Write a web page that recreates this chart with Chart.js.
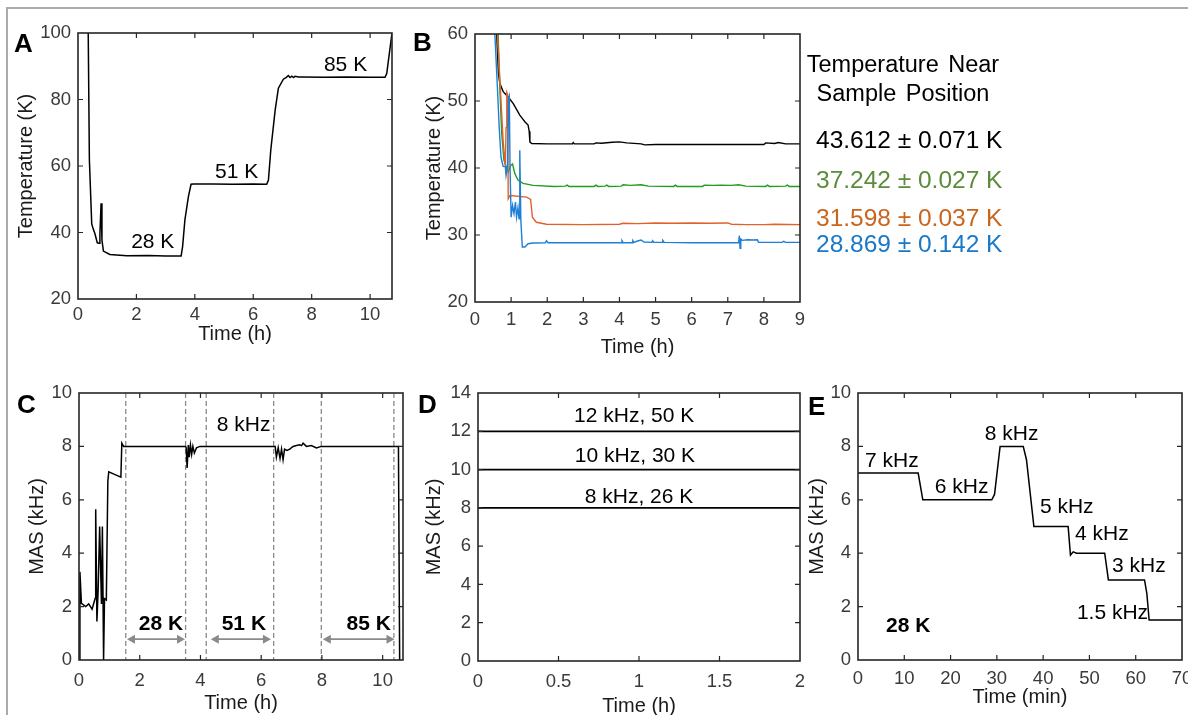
<!DOCTYPE html>
<html>
<head>
<meta charset="utf-8">
<script src="https://cdn.jsdelivr.net/npm/chart.js@4.4.1/dist/chart.umd.min.js"></script>
<style>
  html, body { margin: 0; padding: 0; background: #fff; }
  #fig { position: relative; width: 1188px; height: 715px; overflow: hidden; background: #fff;
         font-family: 'Liberation Sans', Arial, Helvetica, sans-serif; }
  #fig canvas { position: absolute; left: 0; top: 0; }
  .frame { position: absolute; left: 6px; top: 7px; right: -10px; bottom: -10px;
           border-top: 2px solid #ababab; border-left: 2px solid #ababab; }
  .lbl { position: absolute; white-space: nowrap; line-height: 1; color: #000; }
  .panel { font-weight: bold; font-size: 26px; }
  .hdr { font-size: 23.5px; width: 260px; text-align: center; word-spacing: 3px; }
  .val { font-size: 24.5px; }
</style>
</head>
<body>
<div id="fig">
  <div class="frame"></div>
  <canvas id="cA" width="1188" height="715"></canvas>
  <canvas id="cB" width="1188" height="715"></canvas>
  <canvas id="cC" width="1188" height="715"></canvas>
  <canvas id="cD" width="1188" height="715"></canvas>
  <canvas id="cE" width="1188" height="715"></canvas>

  <div class="lbl panel" style="left:14px;top:30px;">A</div>
  <div class="lbl panel" style="left:413px;top:29px;">B</div>
  <div class="lbl panel" style="left:17px;top:391px;">C</div>
  <div class="lbl panel" style="left:418px;top:391px;">D</div>
  <div class="lbl panel" style="left:808px;top:393px;">E</div>

  <div class="lbl hdr" style="left:773px;top:53px;">Temperature Near</div>
  <div class="lbl hdr" style="left:773px;top:82px;">Sample Position</div>
  <div class="lbl val" style="left:816px;top:128px;color:#000;">43.612 ± 0.071 K</div>
  <div class="lbl val" style="left:816px;top:168px;color:#5b8c3a;">37.242 ± 0.027 K</div>
  <div class="lbl val" style="left:816px;top:206px;color:#c8661e;">31.598 ± 0.037 K</div>
  <div class="lbl val" style="left:816px;top:232px;color:#1a78c8;">28.869 ± 0.142 K</div>
</div>

<script>
// ---- Panel A: temperature during the 28 K / 51 K / 85 K run ----
const aTime = [0.35, 0.39, 0.47, 0.52, 0.58, 0.66, 0.72, 0.75, 0.79, 0.82, 0.87, 1.09, 1.67, 2.4, 3.0, 3.53,
               3.58, 3.66, 3.78, 3.87, 3.95, 4.6, 5.3, 6.0, 6.46, 6.52, 6.60, 6.75, 6.86, 7.03, 7.12, 7.20,
               7.26, 7.32, 7.38, 7.43, 7.55, 7.7, 8.4, 9.2, 10.0, 10.51, 10.57, 10.75];
const aTemp = [100, 61.8, 42.6, 41.1, 39.6, 36.9, 36.8, 39.6, 48.8, 37.7, 34.4, 33.4, 33.0, 33.1, 32.9, 32.9,
               35.7, 43.8, 50.8, 54.5, 54.6, 54.6, 54.5, 54.6, 54.5, 55.8, 64.8, 76.8, 83.4, 86.1, 86.6, 87.2,
               86.6, 87.0, 86.6, 87.0, 86.8, 86.8, 86.7, 86.8, 86.7, 86.7, 87.8, 100];
const aNotes = [
  { text: '28 K', x: 1.82, y: 35.3 },
  { text: '51 K', x: 4.69, y: 56.4 },
  { text: '85 K', x: 8.42, y: 88.6 }
];

// ---- Panel B: temperature near the sample position, four cool-downs ----
const bTimeBlack = [0.60, 0.65, 0.69, 0.78, 0.92, 1.06, 1.24, 1.31, 1.38, 1.47, 1.50, 1.52, 1.57, 2.0, 2.7, 2.72,
                    2.75, 3.3, 3.35, 3.5, 3.8, 4.0, 4.2, 4.6, 4.7, 5.0, 5.5, 6.5, 7.5, 8.0, 8.05, 8.3, 8.4, 8.6, 9.0];
const bTempBlack = [60, 54.0, 52.6, 51.4, 50.6, 49.6, 47.9, 47.4, 46.9, 46.4, 45.5, 43.9, 43.65, 43.6, 43.6, 43.8,
                    43.6, 43.6, 43.75, 43.7, 43.85, 43.9, 43.75, 43.6, 43.45, 43.5, 43.5, 43.5, 43.5, 43.5, 43.75, 43.65, 43.8, 43.6, 43.6];
const bTimeGreen = [0.64, 0.69, 0.74, 0.80, 0.85, 0.92, 0.99, 1.04, 1.10, 1.19, 1.33, 1.61, 2.2, 2.5, 2.55, 2.6,
                    3.3, 3.35, 3.4, 3.6, 3.65, 3.7, 4.05, 4.1, 4.3, 4.6, 4.8, 5.5, 5.55, 5.6, 6.3, 6.35, 6.6, 6.8,
                    7.1, 7.3, 7.5, 8.05, 8.1, 8.15, 8.6, 8.65, 8.7, 9.0];
const bTempGreen = [60, 51.6, 45.2, 41.2, 40.4, 39.4, 40.4, 40.6, 39.2, 38.2, 37.7, 37.4, 37.25, 37.3, 37.45, 37.25,
                    37.25, 37.45, 37.25, 37.3, 37.45, 37.25, 37.3, 37.5, 37.4, 37.5, 37.3, 37.25, 37.45, 37.25, 37.25, 37.45, 37.4, 37.45,
                    37.4, 37.5, 37.3, 37.25, 37.45, 37.25, 37.3, 37.45, 37.25, 37.25];
const bTimeOrange = [0.62, 0.70, 0.78, 0.84, 0.86, 0.88, 0.905, 0.92, 0.97, 1.43, 1.54, 1.59, 1.70, 1.98, 3.0,
                     4.0, 4.1, 4.5, 5.0, 5.5, 6.0, 6.5, 7.0, 7.1, 7.5, 8.0, 8.3, 9.0];
const bTempOrange = [60, 52, 44, 40.2, 46, 51.3, 51.0, 35.4, 35.9, 35.65, 35.3, 32.65, 31.9, 31.6, 31.55,
                     31.6, 31.75, 31.7, 31.8, 31.75, 31.8, 31.75, 31.8, 31.6, 31.55, 31.55, 31.6, 31.55];
const bTimeBlue = [0.55, 0.62, 0.67, 0.72, 0.78, 0.84, 0.86, 0.90, 0.93, 0.95, 0.97, 1.00, 1.04, 1.08, 1.12, 1.15,
                   1.19, 1.22, 1.24, 1.27, 1.31, 1.38, 1.47, 1.61, 1.95, 1.98, 2.02, 3.0, 4.05, 4.07, 4.1, 4.35,
                   4.37, 4.4, 4.5, 4.6, 4.68, 4.9, 4.92, 4.95, 5.18, 5.2, 5.24, 6.0, 7.3, 7.32, 7.34, 7.36, 7.40,
                   7.55, 7.7, 7.82, 7.85, 8.5, 8.55, 8.6, 9.0];
const bTempBlue = [60, 52.1, 46.1, 41.6, 40.25, 40.2, 38.9, 40.2, 50.4, 50.75, 40.2, 32.65, 34.4, 33.2, 34.9, 32.65,
                   34.1, 32.4, 42.65, 32.15, 28.2, 28.2, 28.7, 28.8, 28.85, 29.15, 28.85, 28.85, 28.85, 29.15, 28.85, 28.85,
                   29.15, 28.9, 29.1, 29.25, 28.95, 28.9, 29.15, 28.9, 28.9, 29.2, 28.9, 28.85, 28.85, 29.9, 28.0, 29.4, 29.2,
                   29.3, 29.25, 29.3, 28.9, 28.9, 29.05, 28.9, 28.9];

// ---- Panel C: MAS rate over the whole run ----
const cTime = [0.03, 0.03, 0.08, 0.22, 0.32, 0.43, 0.48, 0.53, 0.55, 0.59, 0.63, 0.68, 0.74, 0.77, 0.81, 0.84,
               0.90, 0.95, 0.98, 1.17, 1.38, 1.41, 1.47, 2.5, 3.51, 3.53, 3.56, 3.60, 3.63, 3.67, 3.71, 3.75,
               3.80, 3.87, 3.98, 5.0, 6.46, 6.50, 6.56, 6.62, 6.67, 6.72, 6.77, 6.85, 6.94, 7.05, 7.16, 7.27,
               7.33, 7.38, 7.49, 7.65, 7.82, 7.98, 9.0, 10.52, 10.56];
const cMas = [0, 3.3, 2.12, 2.0, 2.1, 1.9, 2.1, 2.3, 5.65, 1.44, 2.6, 5.0, 2.1, 5.0, 0, 2.3,
              2.25, 6.7, 7.05, 6.95, 6.85, 8.12, 8.0, 8.0, 8.0, 7.95, 7.19, 8.05, 7.6, 8.05, 7.7, 8.0,
              7.75, 7.95, 8.0, 8.0, 8.0, 7.6, 7.95, 7.55, 7.9, 7.5, 7.9, 7.85, 7.9, 8.0, 8.03, 8.06,
              8.03, 8.12, 8.0, 8.03, 7.94, 8.0, 8.0, 8.0, 0];
const cMarkers = [1.54, 3.51, 4.19, 6.41, 7.98, 10.37];
const cRangeStart = [1.58, 4.34, 8.03];
const cRangeEnd = [3.49, 6.32, 10.39];
const cRangeLabel = ['28 K', '51 K', '85 K'];
const cRangeLabelX = [2.70, 5.43, 9.54];
const cNotes = [{ text: '8 kHz', x: 4.54, y: 8.59 }];

// ---- Panel D: stability at three spinning rates ----
const dTime = [0, 2];
const dMas12 = [12, 12];
const dMas10 = [10, 10];
const dMas8 = [8, 8];
const dNotes = [
  { text: '12 kHz, 50 K', x: 0.97, y: 12.5, align: 'center' },
  { text: '10 kHz, 30 K', x: 0.975, y: 10.41, align: 'center' },
  { text: '8 kHz, 26 K', x: 1.0, y: 8.24, align: 'center' }
];

// ---- Panel E: stepping the MAS rate at 28 K ----
const eTime = [0, 13.0, 14.0, 28.9, 29.5, 30.7, 35.7, 36.4, 38.0, 45.4, 45.9, 46.5, 47.2, 53.3, 54.1, 61.9, 62.4, 62.9, 70];
const eMas = [7, 7, 6, 6, 6.2, 8, 8, 7.5, 5, 5, 3.93, 4.05, 4.0, 4, 3, 3, 2.5, 1.5, 1.5];
const eNotes = [
  { text: '7 kHz', x: 1.51, y: 7.22 },
  { text: '6 kHz', x: 16.6, y: 6.27 },
  { text: '8 kHz', x: 27.4, y: 8.24 },
  { text: '5 kHz', x: 39.3, y: 5.53 },
  { text: '4 kHz', x: 46.9, y: 4.49 },
  { text: '3 kHz', x: 54.9, y: 3.31 },
  { text: '1.5 kHz', x: 47.3, y: 1.54 },
  { text: '28 K', x: 6.05, y: 1.06, bold: true }
];

const FONT = "'Liberation Sans', Arial, Helvetica, sans-serif";
Chart.defaults.font.family = FONT;
const AXIS = '#262626';
const TICK_TXT = '#3a3a3a';
const fig = document.getElementById('fig');

// Closed box with inward tick marks on all four sides
const boxTicks = {
  id: 'boxTicks',
  afterDatasetsDraw(chart) {
    const { ctx, chartArea: a, scales: { x, y } } = chart;
    ctx.save();
    ctx.strokeStyle = AXIS;
    ctx.lineWidth = 1.2;
    const L = 5;
    ctx.beginPath();
    x.ticks.forEach(t => {
      const px = x.getPixelForValue(t.value);
      if (px <= a.left + 1 || px >= a.right - 1) return;
      ctx.moveTo(px, a.bottom); ctx.lineTo(px, a.bottom - L);
      ctx.moveTo(px, a.top); ctx.lineTo(px, a.top + L);
    });
    y.ticks.forEach(t => {
      const py = y.getPixelForValue(t.value);
      if (py <= a.top + 1 || py >= a.bottom - 1) return;
      ctx.moveTo(a.left, py); ctx.lineTo(a.left + L, py);
      ctx.moveTo(a.right, py); ctx.lineTo(a.right - L, py);
    });
    ctx.stroke();
    ctx.lineWidth = 1.6;
    ctx.strokeRect(a.left, a.top, a.right - a.left, a.bottom - a.top);
    ctx.restore();
  }
};

// Dashed interval markers and double-headed range arrows (panel C)
const rangeMarks = {
  id: 'rangeMarks',
  beforeDatasetsDraw(chart) {
    const { ctx, chartArea: a, scales: { x, y } } = chart;
    ctx.save();
    ctx.strokeStyle = '#8a8a8a';
    ctx.lineWidth = 1.3;
    ctx.setLineDash([5, 3]);
    cMarkers.forEach(m => {
      const px = x.getPixelForValue(m);
      ctx.beginPath(); ctx.moveTo(px, a.top); ctx.lineTo(px, a.bottom); ctx.stroke();
    });
    ctx.setLineDash([]);
    const ay = y.getPixelForValue(0.78);
    const h = 8, w = 4.5;
    ctx.fillStyle = '#8a8a8a';
    ctx.lineWidth = 1.8;
    cRangeStart.forEach((s, i) => {
      const x1 = x.getPixelForValue(s), x2 = x.getPixelForValue(cRangeEnd[i]);
      ctx.beginPath(); ctx.moveTo(x1 + h - 1, ay); ctx.lineTo(x2 - h + 1, ay); ctx.stroke();
      ctx.beginPath(); ctx.moveTo(x1, ay); ctx.lineTo(x1 + h, ay - w); ctx.lineTo(x1 + h, ay + w); ctx.closePath(); ctx.fill();
      ctx.beginPath(); ctx.moveTo(x2, ay); ctx.lineTo(x2 - h, ay - w); ctx.lineTo(x2 - h, ay + w); ctx.closePath(); ctx.fill();
    });
    ctx.restore();
  }
};

function series(xs, ys, color, width) {
  return {
    data: xs.map((v, i) => ({ x: v, y: ys[i] })),
    borderColor: color, borderWidth: width || 1.4,
    pointRadius: 0, tension: 0, fill: false
  };
}

// Fixed axis sizes so the plot box lands exactly where the layout wants it
function fixSize(prop, size) {
  return function (s) {
    s[prop] = size;
    s.paddingLeft = 0; s.paddingRight = 0; s.paddingTop = 0; s.paddingBottom = 0;
  };
}

function makePanel(id, c) {
  const tickFont = { size: 18.5, family: FONT };
  const titleFont = { size: 20, family: FONT };
  const chart = new Chart(document.getElementById(id), {
    type: 'line',
    data: { datasets: c.datasets },
    options: {
      responsive: false, animation: false, events: [],
      layout: { padding: { left: c.box.left - 70, top: c.box.top, right: 1188 - c.box.right, bottom: 715 - c.box.bottom - 50 } },
      plugins: { legend: { display: false }, tooltip: { enabled: false } },
      scales: {
        x: {
          type: 'linear', min: c.x[0], max: c.x[1],
          ticks: { stepSize: c.x[2], includeBounds: false, autoSkip: false, maxRotation: 0, padding: c.xPad,
                   color: TICK_TXT, font: tickFont, callback: v => String(v) },
          grid: { display: false, drawTicks: false }, border: { display: false },
          title: { display: true, text: c.xTitle, color: '#1a1a1a', font: titleFont, padding: { top: 0, bottom: c.xTitlePad } },
          afterFit: fixSize('height', 50)
        },
        y: {
          type: 'linear', min: c.y[0], max: c.y[1],
          ticks: { stepSize: c.y[2], includeBounds: false, autoSkip: false, padding: 7, color: TICK_TXT, font: tickFont },
          grid: { display: false, drawTicks: false }, border: { display: false },
          title: { display: true, text: c.yTitle, color: '#1a1a1a', font: titleFont, padding: { top: c.yTitlePad, bottom: 0 } },
          afterFit: fixSize('width', 70)
        }
      }
    },
    plugins: [boxTicks].concat(c.extra || [])
  });
  (c.notes || []).forEach(n => addNote(chart, n));
  return chart;
}

// Text annotations placed in data coordinates of a panel
function addNote(chart, n) {
  const size = n.size || 21;
  const el = document.createElement('div');
  el.className = 'lbl';
  el.textContent = n.text;
  el.style.fontSize = size + 'px';
  if (n.bold) el.style.fontWeight = 'bold';
  const px = chart.scales.x.getPixelForValue(n.x);
  const py = chart.scales.y.getPixelForValue(n.y);
  el.style.top = (py - 0.8465 * size) + 'px';
  el.style.left = px + 'px';
  if (n.align === 'center') el.style.transform = 'translateX(-50%)';
  fig.appendChild(el);
}

makePanel('cA', {
  box: { left: 78, top: 33, right: 392, bottom: 299 },
  x: [0, 10.75, 2], y: [20, 100, 20], xPad: 5, xTitlePad: 3, yTitlePad: 6,
  xTitle: 'Time (h)', yTitle: 'Temperature (K)',
  datasets: [series(aTime, aTemp, '#000000', 1.5)],
  notes: aNotes
});

makePanel('cB', {
  box: { left: 475, top: 34, right: 800, bottom: 302 },
  x: [0, 9, 1], y: [20, 60, 10], xPad: 7, xTitlePad: -7, yTitlePad: 17,
  xTitle: 'Time (h)', yTitle: 'Temperature (K)',
  datasets: [
    series(bTimeBlue, bTempBlue, '#1f7fd6', 1.4),
    series(bTimeOrange, bTempOrange, '#e0622a', 1.4),
    series(bTimeGreen, bTempGreen, '#1f9e1f', 1.4),
    series(bTimeBlack, bTempBlack, '#000000', 1.4)
  ]
});

const chartC = makePanel('cC', {
  box: { left: 79, top: 393, right: 403, bottom: 660 },
  x: [0, 10.67, 2], y: [0, 10, 2], xPad: 10, xTitlePad: -5, yTitlePad: 16,
  xTitle: 'Time (h)', yTitle: 'MAS (kHz)',
  datasets: [series(cTime, cMas, '#000000', 1.5)],
  notes: cNotes,
  extra: [rangeMarks]
});
cRangeLabel.forEach((t, i) => addNote(chartC, { text: t, x: cRangeLabelX[i], y: 1.12, bold: true, align: 'center' }));

makePanel('cD', {
  box: { left: 478, top: 393, right: 800, bottom: 661 },
  x: [0, 2, 0.5], y: [0, 14, 2], xPad: 10, xTitlePad: -7, yTitlePad: 14,
  xTitle: 'Time (h)', yTitle: 'MAS (kHz)',
  datasets: [
    series(dTime, dMas12, '#000000', 1.8),
    series(dTime, dMas10, '#000000', 1.8),
    series(dTime, dMas8, '#000000', 1.8)
  ],
  notes: dNotes
});

makePanel('cE', {
  box: { left: 858, top: 393, right: 1182, bottom: 660 },
  x: [0, 70, 10], y: [0, 10, 2], xPad: 8, xTitlePad: 1, yTitlePad: 17,
  xTitle: 'Time (min)', yTitle: 'MAS (kHz)',
  datasets: [series(eTime, eMas, '#000000', 1.5)],
  notes: eNotes
});
</script>
</body>
</html>
